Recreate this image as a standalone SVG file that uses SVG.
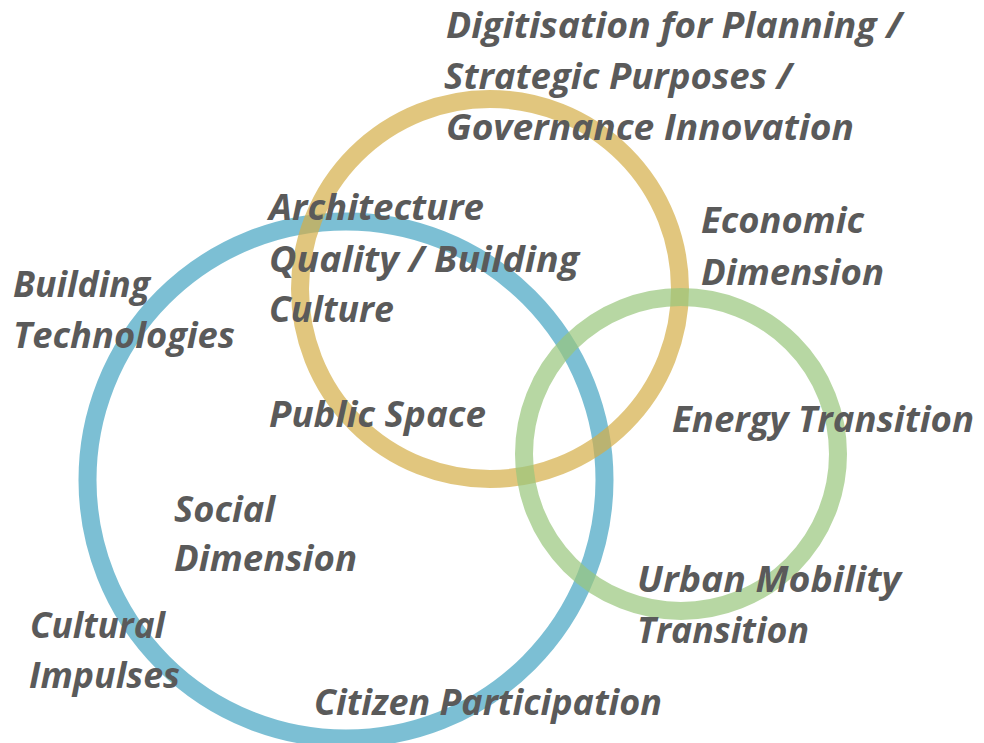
<svg xmlns="http://www.w3.org/2000/svg" width="984" height="743" viewBox="0 0 984 743">
<style>
.ring{fill:none;stroke-width:18;opacity:0.7}
.lbl{font-family:"Open Sans",Lato,"Liberation Sans",sans-serif;font-weight:bold;font-style:italic;font-size:36px;fill:#5a5a5a}
</style>
<rect width="984" height="743" fill="#ffffff"/>
<g id="circles">
<circle id="circle-blue" class="ring" cx="346" cy="480" r="258.5" stroke="#45A4C2"/>
<circle id="circle-gold" class="ring" cx="490" cy="289" r="190" stroke="#D4AE47"/>
<circle id="circle-green" class="ring" cx="681" cy="454" r="157" stroke="#98C67C"/>
</g>
<g id="labels">
<g id="digitisation">
<text class="lbl" x="446" y="38" textLength="456" lengthAdjust="spacingAndGlyphs">Digitisation for Planning /</text>
<text class="lbl" x="444" y="89" textLength="348" lengthAdjust="spacingAndGlyphs">Strategic Purposes /</text>
<text class="lbl" x="446" y="140" textLength="408" lengthAdjust="spacingAndGlyphs">Governance Innovation</text>
</g>
<g id="architecture">
<text class="lbl" x="269" y="220" textLength="215" lengthAdjust="spacingAndGlyphs">Architecture</text>
<text class="lbl" x="269" y="272" textLength="310" lengthAdjust="spacingAndGlyphs">Quality / Building</text>
<text class="lbl" x="269" y="322" textLength="125" lengthAdjust="spacingAndGlyphs">Culture</text>
</g>
<g id="public-space">
<text class="lbl" x="269" y="427" textLength="217" lengthAdjust="spacingAndGlyphs">Public Space</text>
</g>
<g id="economic">
<text class="lbl" x="701" y="233" textLength="163" lengthAdjust="spacingAndGlyphs">Economic</text>
<text class="lbl" x="701" y="285" textLength="183" lengthAdjust="spacingAndGlyphs">Dimension</text>
</g>
<g id="energy">
<text class="lbl" x="672" y="432" textLength="302" lengthAdjust="spacingAndGlyphs">Energy Transition</text>
</g>
<g id="building-tech">
<text class="lbl" x="13" y="297" textLength="137" lengthAdjust="spacingAndGlyphs">Building</text>
<text class="lbl" x="13" y="348" textLength="222" lengthAdjust="spacingAndGlyphs">Technologies</text>
</g>
<g id="social">
<text class="lbl" x="174" y="522" textLength="101" lengthAdjust="spacingAndGlyphs">Social</text>
<text class="lbl" x="174" y="571" textLength="183" lengthAdjust="spacingAndGlyphs">Dimension</text>
</g>
<g id="mobility">
<text class="lbl" x="637" y="592" textLength="264" lengthAdjust="spacingAndGlyphs">Urban Mobility</text>
<text class="lbl" x="637" y="643" textLength="172" lengthAdjust="spacingAndGlyphs">Transition</text>
</g>
<g id="cultural">
<text class="lbl" x="30" y="638" textLength="135" lengthAdjust="spacingAndGlyphs">Cultural</text>
<text class="lbl" x="29" y="688" textLength="151" lengthAdjust="spacingAndGlyphs">Impulses</text>
</g>
<g id="citizen">
<text class="lbl" x="314" y="715" textLength="348" lengthAdjust="spacingAndGlyphs">Citizen Participation</text>
</g>
</g>
</svg>
